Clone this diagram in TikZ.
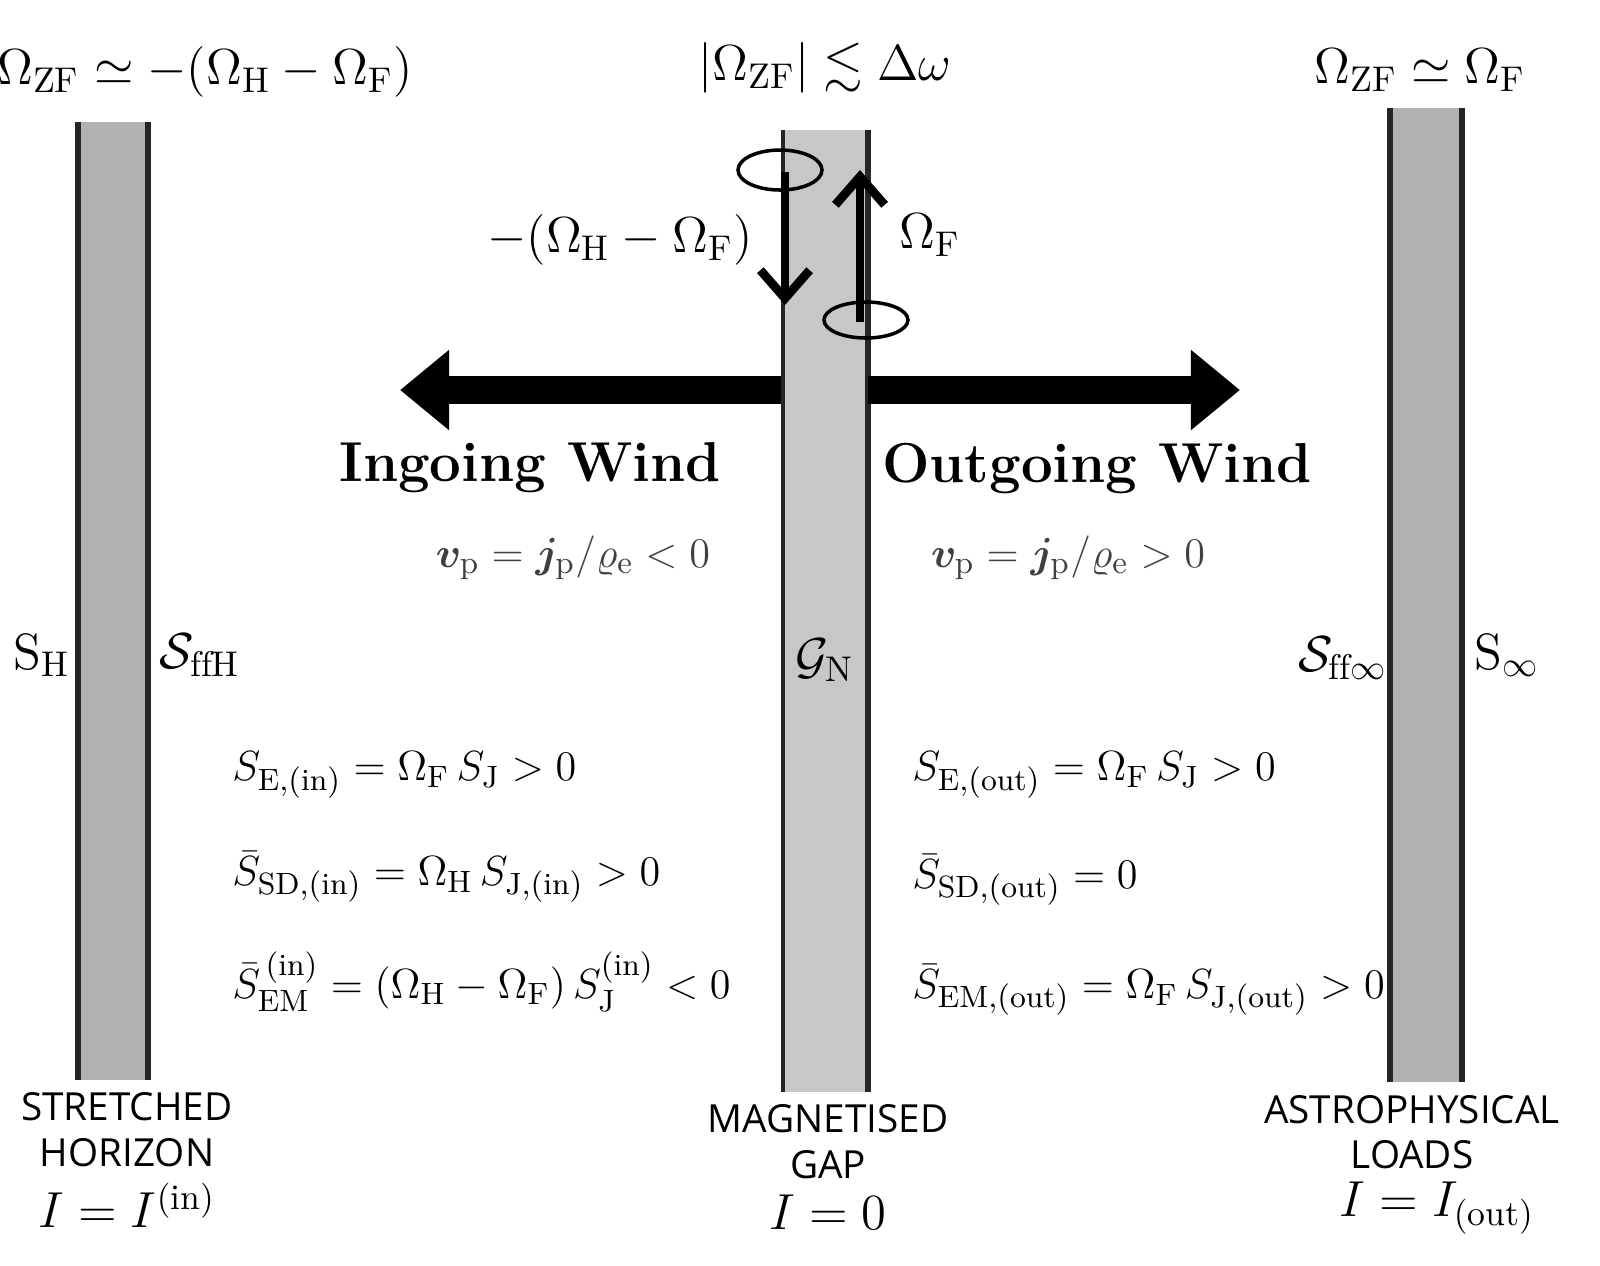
\documentclass[tikz,border=0pt]{standalone}
\usepackage{amsmath,amssymb,bm}
\usepackage{fontspec}
\newfontfamily\labelfont{Open Sans}
\usepackage{tikz}
\usetikzlibrary{arrows.meta,calc}
\tikzset{
    bar/.style={fill=#1, draw=none},
    edge/.style={line width=1.6pt, draw=black!85},
    big/.style={font=\fontsize{14.5}{17}\selectfont},
    eqn/.style={font=\fontsize{12.5}{15}\selectfont, anchor=west},
    caption/.style={font=\labelfont\fontsize{11}{13}\selectfont, align=center},
    spin/.style={line width=2.5pt, -{Straight Barb[length=8pt,width=14pt,line width=2.5pt]}},
    wind/.style={line width=8pt, -{Triangle[length=14pt,width=22pt]}}}
\begin{document}
\begin{tikzpicture}[x=0.01cm,y=-0.01cm]
% bars
\draw [bar=black!30] (78,122) rectangle (150,1080);
\draw [edge] (78,122) -- (78,1080);
\draw [edge] (148,122) -- (148,1080);
\draw [bar=black!22] (783,130) rectangle (868,1092);
\draw [edge, line width=1pt] (783,130) -- (783,1092);
\draw [edge] (868,130) -- (868,1092);
\draw [bar=black!30] (1390,108) rectangle (1462,1082);
\draw [edge] (1390,108) -- (1390,1082);
\draw [edge] (1462,108) -- (1462,1082);
% titles
\node (tl) at (205,72) [big] {$\Omega_{\mathrm{ZF}}\simeq-(\Omega_{\mathrm{H}}-\Omega_{\mathrm{F}})$};
\node (tm) at (825,68) [big] {$|\Omega_{\mathrm{ZF}}|\lesssim\Delta\omega$};
\node (tr) at (1420,70) [big] {$\Omega_{\mathrm{ZF}}\simeq\Omega_{\mathrm{F}}$};
% rotation loops
\draw [line width=1pt] (780,170) ellipse (42 and 20);
\draw [line width=1pt] (866,320) ellipse (42 and 18);
\coordinate (d1) at (785,172);
\coordinate (d2) at (785,305);
\coordinate (u1) at (860,322);
\coordinate (u2) at (860,170);
\draw [spin] (d1) -- (d2);
\draw [spin] (u1) -- (u2);
\node (om1) at (620,240) [big] {$-(\Omega_{\mathrm{H}}-\Omega_{\mathrm{F}})$};
\node (om2) at (930,235) [big] {$\Omega_{\mathrm{F}}$};
% winds
\coordinate (wl) at (781,390);
\coordinate (wr) at (868,390);
\draw [wind] (wl) -- (400,390);
\draw [wind] (wr) -- (1240,390);
\node (in) at (530,468) [font=\bfseries\fontsize{16}{19}\selectfont] {Ingoing Wind};
\node (out) at (1097,468) [font=\bfseries\fontsize{16}{19}\selectfont] {Outgoing Wind};
\node (vin) at (573,558) [font=\fontsize{13}{16}\selectfont, text=black!75] {$\bm{v}_{\mathrm{p}}=\bm{j}_{\mathrm{p}}/\varrho_{\mathrm{e}}<0$};
\node (vout) at (1068,558) [font=\fontsize{13}{16}\selectfont, text=black!75] {$\bm{v}_{\mathrm{p}}=\bm{j}_{\mathrm{p}}/\varrho_{\mathrm{e}}>0$};
% surfaces
\node (sh) at (42,655) [big] {$\mathrm{S}_{\mathrm{H}}$};
\node (sfh) at (200,655) [big] {$\mathcal{S}_{\mathrm{ffH}}$};
\node (gn) at (825,660) [big] {$\mathcal{G}_{\mathrm{N}}$};
\node (sfi) at (1343,658) [big] {$\mathcal{S}_{\mathrm{ff}\infty}$};
\node (si) at (1507,655) [big] {$\mathrm{S}_{\infty}$};
% fluxes
\node (e1) at (220,775) [eqn] {$S_{\mathrm{E,(in)}}=\Omega_{\mathrm{F}}\,S_{\mathrm{J}}>0$};
\node (e2) at (220,877) [eqn] {$\bar{S}_{\mathrm{SD,(in)}}=\Omega_{\mathrm{H}}\,S_{\mathrm{J,(in)}}>0$};
\node (e3) at (220,982) [eqn] {$\bar{S}_{\mathrm{EM}}^{\,\mathrm{(in)}}=(\Omega_{\mathrm{H}}-\Omega_{\mathrm{F}})\,S_{\mathrm{J}}^{\mathrm{(in)}}<0$};
\node (e4) at (900,775) [eqn] {$S_{\mathrm{E,(out)}}=\Omega_{\mathrm{F}}\,S_{\mathrm{J}}>0$};
\node (e5) at (900,880) [eqn] {$\bar{S}_{\mathrm{SD,(out)}}=0$};
\node (e6) at (900,990) [eqn] {$\bar{S}_{\mathrm{EM,(out)}}=\Omega_{\mathrm{F}}\,S_{\mathrm{J,(out)}}>0$};
% captions
\node (c1) at (127,1130) [caption] {STRETCHED\\HORIZON};
\node (i1) at (127,1205) [big] {$I=I^{(\mathrm{in})}$};
\node (c2) at (828,1142) [caption] {MAGNETISED\\GAP};
\node (i2) at (828,1212) [big] {$I=0$};
\node (c3) at (1412,1132) [caption] {ASTROPHYSICAL\\LOADS};
\node (i3) at (1437,1208) [big] {$I=I_{(\mathrm{out})}$};
\pgfresetboundingbox
\useasboundingbox (0,0) rectangle (1600,1265);
\end{tikzpicture}
\end{document}
